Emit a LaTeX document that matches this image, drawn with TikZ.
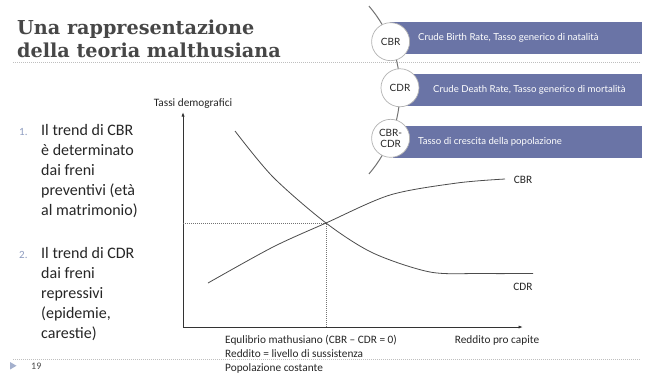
\documentclass[tikz,border=0pt]{standalone}
\usepackage{fontspec}
\setmainfont{Carlito}
\newfontfamily\titlefont{DejaVu Serif}
\newfontfamily\gillfont{Lato}
\usetikzlibrary{arrows.meta}

\definecolor{titlegray}{HTML}{474747}
\definecolor{slate}{HTML}{6A74A6}
\definecolor{bulletblue}{HTML}{8E9CC0}
\definecolor{textgray}{HTML}{262626}

\newcommand\arcr{129}
\newcommand\labelsize{\fontsize{11.3}{14}\selectfont}

\tikzset{
  ratebox/.style={fill=slate, minimum height=32pt, inner sep=0pt, anchor=west},
  ratetext/.style={text=white, font=\gillfont\fontsize{9.6}{11}\selectfont, inner sep=0pt, anchor=west},
  ratecircle/.style={circle, draw=gray!60, line width=0.7pt, fill=white, minimum size=38pt,
    inner sep=0pt, align=center, font=\gillfont\fontsize{10}{10.5}\selectfont, text=black!85},
  bodytext/.style={font=\fontsize{16}{20}\selectfont, text=textgray, align=left, inner sep=0pt, anchor=north west},
  itemnum/.style={font=\fontsize{11}{13}\selectfont, text=bulletblue, inner sep=0pt, anchor=base west},
  chartlabel/.style={font=\labelsize, text=textgray, inner sep=0pt},
  axisline/.style={draw=black!80, line width=0.9pt, -{Latex[length=4.5pt,width=3.2pt]}},
  curve/.style={draw=black!70, line width=0.8pt},
  guide/.style={draw=black!55, line width=0.7pt, dash pattern=on 1pt off 1pt},
  rule/.style={draw=black!25, line width=0.8pt, dash pattern=on 0.8pt off 1.2pt},
  spine/.style={draw=black!55, line width=1pt}
}

\begin{document}
\begin{tikzpicture}[x=1pt,y=-1pt]
  \useasboundingbox[fill=white] (0,0) rectangle (652,376);

  % title and page rules
  \node[font=\titlefont\bfseries\fontsize{19.2}{23.5}\selectfont, text=titlegray, align=left,
    inner sep=0pt, anchor=north west] (title) at (17,19.5) {Una rappresentazione\\della teoria malthusiana};
  \draw[rule] (13,62) -- (640,62);
  \draw[rule] (13,359) -- (640,359);
  \fill[bulletblue!80] (10,362) -- (10,369.5) -- (16.5,365.75) -- cycle;
  \node[font=\fontsize{10}{12}\selectfont, text=black!70, inner sep=0pt, anchor=base west] (page) at (31,369.5) {19};

  % left list
  \node[itemnum] (num1) at (19,135) {1.};
  \node[bodytext] (item1) at (41,124) {Il trend di CBR\\è determinato\\dai freni\\preventivi (età\\al matrimonio)};
  \node[itemnum] (num2) at (19,258) {2.};
  \node[bodytext] (item2) at (41,247) {Il trend di CDR\\dai freni\\repressivi\\(epidemie,\\carestie)};

  % definitions
  \coordinate (arcc) at (271,90);
  \draw[spine] (arcc) ++(-40.6:\arcr) arc[start angle=-40.6, end angle=40.6, radius=\arcr];
  \node[ratebox, minimum width=252pt] (cbrbox) at (390,38) {};
  \node[ratebox, minimum width=242pt] (cdrbox) at (400,89.5) {};
  \node[ratebox, minimum width=249pt] (difbox) at (393,141.5) {};
  \node[ratecircle] (cbrc) at ([shift={(-22:\arcr)}]arcc) {CBR};
  \node[ratecircle] (cdrc) at ([shift={(-1:\arcr)}]arcc) {CDR};
  \node[ratecircle] (difc) at ([shift={(22:\arcr)}]arcc) {CBR-\\CDR};
  \node[ratetext] (cbrtxt) at (418,38) {Crude Birth Rate, Tasso generico di natalità};
  \node[ratetext] (cdrtxt) at (433,89.5) {Crude Death Rate, Tasso generico di mortalità};
  \node[ratetext] (diftxt) at (418,141.5) {Tasso di crescita della popolazione};

  % chart
  \coordinate (orig) at (183,327);
  \coordinate (ytop) at (183,112);
  \coordinate (xend) at (523,327);
  \coordinate (eq) at (326,223);
  \coordinate (eqy) at (183,223);
  \coordinate (eqx) at (326,327);
  \draw[axisline] (orig) -- (ytop);
  \draw[axisline] (orig) -- (xend);
  \draw[guide] (eqy) -- (eq) -- (eqx);
  \draw[curve] plot[smooth] coordinates {(235,131) (273,177) (326,223) (373,253) (430,272) (480,273.5) (533,273.5)};
  \draw[curve] plot[smooth] coordinates {(208,283) (273,247) (326,223) (390,195) (457,183) (505,179)};

  \node[chartlabel] (ylab) at (193,104) {Tassi demografici};
  \node[chartlabel] (xlab) at (497,340) {Reddito pro capite};
  \node[chartlabel] (cbrlab) at (523,180) {CBR};
  \node[chartlabel] (cdrlab) at (523,287) {CDR};
  \node[chartlabel, align=left, anchor=north west] (eqtxt) at (225,335)
    {Equlibrio mathusiano (CBR -- CDR = 0)\\Reddito = livello di sussistenza\\Popolazione costante};
\end{tikzpicture}
\end{document}
